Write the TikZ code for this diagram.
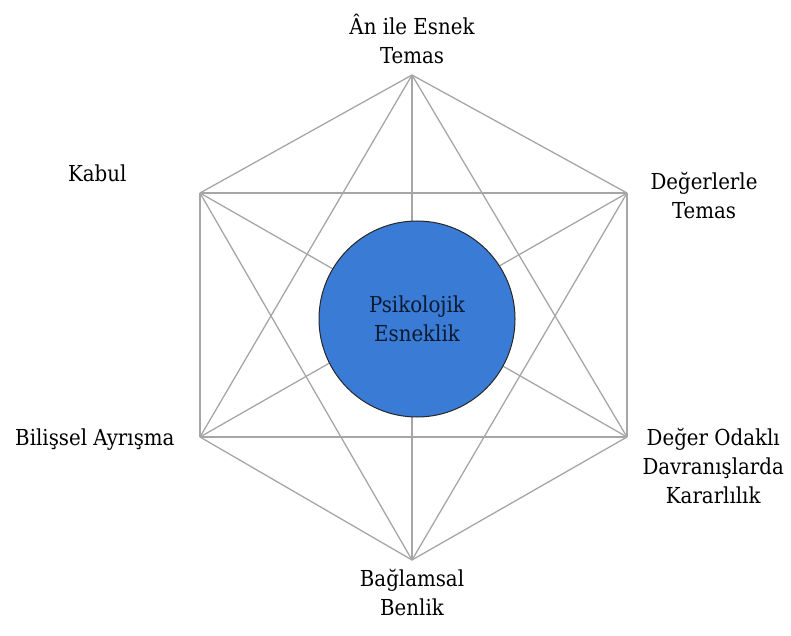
\documentclass[tikz,border=0pt]{standalone}
\usepackage{fontspec}
\setmainfont{DejaVu Serif Condensed}
\usetikzlibrary{positioning}
\definecolor{psyblue}{HTML}{3A7BD5}
\definecolor{edgegray}{HTML}{A6A6A6}
\definecolor{inktext}{HTML}{0B1A2E}

\begin{document}
\begin{tikzpicture}[x=1pt,y=1pt,node distance=10pt,
                    every node/.style={font=\fontsize{22}{29}\selectfont,align=center},
                    link/.style={draw=edgegray,line width=1.3pt}]
  \useasboundingbox (0,0) rectangle (791,635);

  % hexagon corners
  \coordinate (T)  at (412,560);
  \coordinate (UR) at (627,442);
  \coordinate (LR) at (627,198);
  \coordinate (B)  at (412,75);
  \coordinate (LL) at (200,198);
  \coordinate (UL) at (200,442);

  % every corner joined to every other
  \foreach \a/\b in {T/UR,T/LR,T/B,T/LL,T/UL,UR/LR,UR/B,UR/LL,UR/UL,
                     LR/B,LR/LL,LR/UL,B/LL,B/UL,LL/UL}
    \draw[link] (\a) -- (\b);

  \node[circle,fill=psyblue,draw=black!85,line width=1pt,
        minimum size=196pt,text=inktext] (PE) at (417,316) {Psikolojik\\Esneklik};

  \node[above=8pt of T]                     (anLabel)   {Ân ile Esnek\\Temas};
  \node[left=70pt of UL,yshift=20pt]        (kabul)     {Kabul};
  \node[right=20pt of UR,yshift=-3pt]       (degerler)  {Değerlerle\\Temas};
  \node[left=22pt of LL,yshift=-3pt]        (bilissel)  {Bilişsel Ayrışma};
  \node[right=12pt of LR,yshift=-29pt]      (kararlilik) {Değer Odaklı\\Davranışlarda\\Kararlılık};
  \node[below=6pt of B]                     (benlik)    {Bağlamsal\\Benlik};
\end{tikzpicture}
\end{document}
